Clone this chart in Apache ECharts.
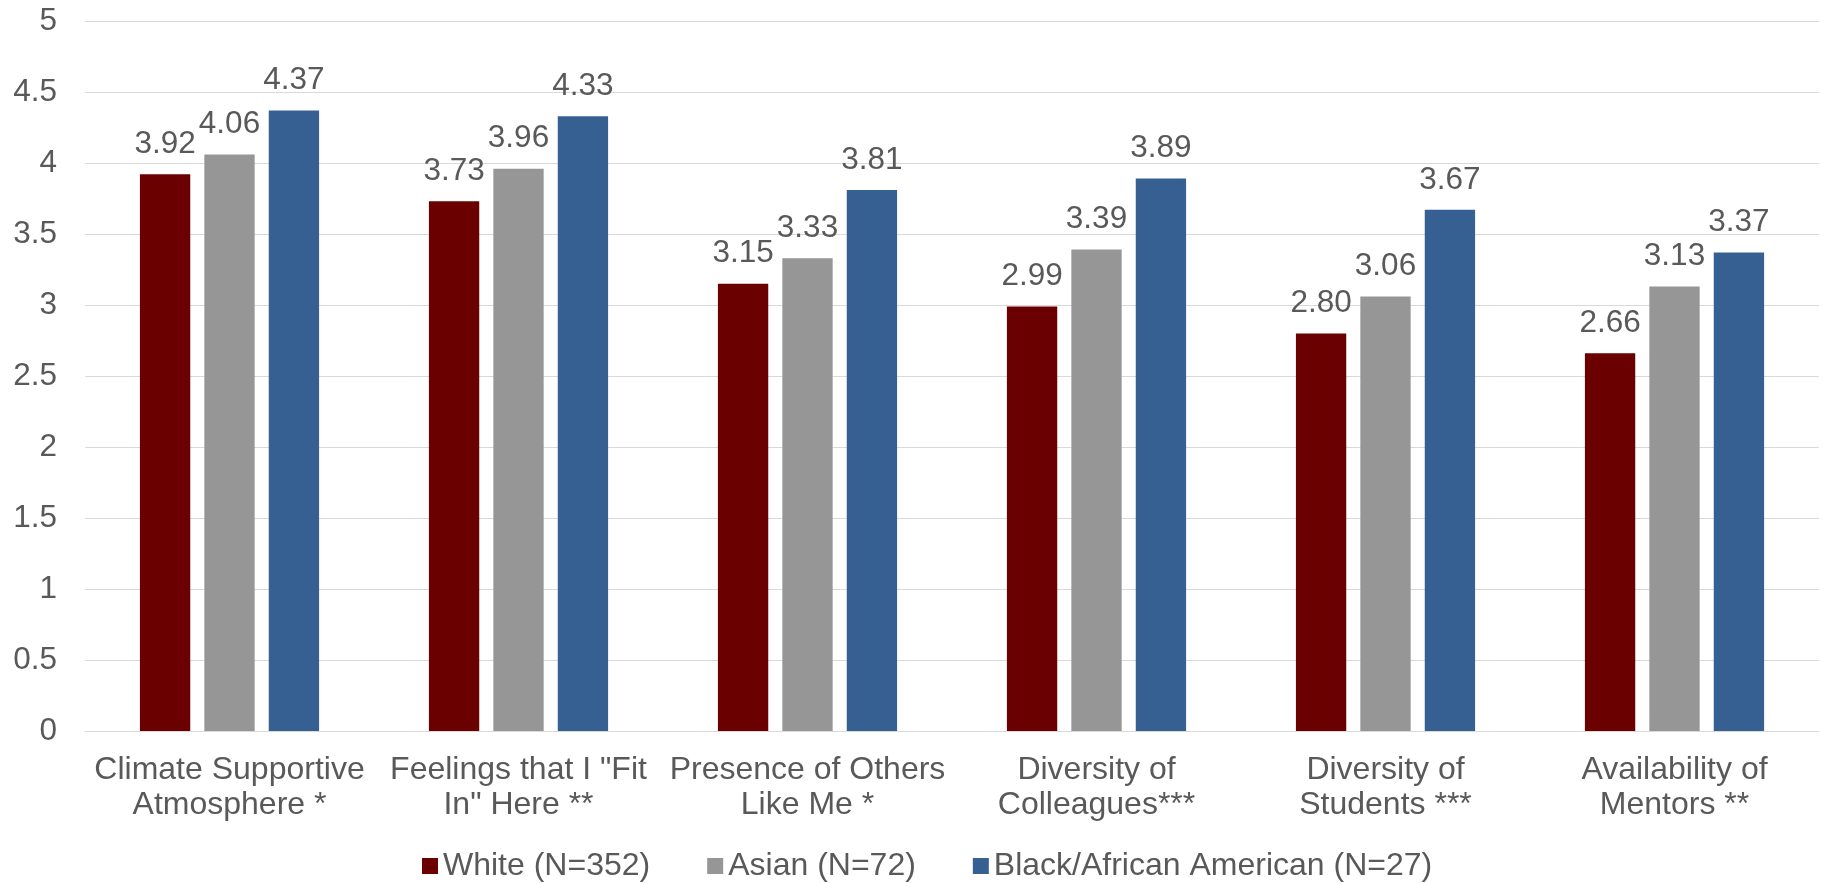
<!DOCTYPE html>
<html><head><meta charset="utf-8">
<script src="https://cdn.jsdelivr.net/npm/echarts@6/dist/echarts.min.js"></script>
<style>html,body{margin:0;padding:0;background:#fff}#c{width:1823px;height:883px}</style>
</head><body><div id="c"></div>
<script>
const categories = ['Climate Supportive\nAtmosphere *', 'Feelings that I "Fit\nIn" Here **', 'Presence of Others\nLike Me *', 'Diversity of\nColleagues***', 'Diversity of\nStudents ***', 'Availability of\nMentors **'];
const seriesNames = ['White (N=352)', 'Asian (N=72)', 'Black/African American (N=27)'];
const white = [3.92, 3.73, 3.15, 2.99, 2.80, 2.66];
const asian = [4.06, 3.96, 3.33, 3.39, 3.06, 3.13];
const black = [4.37, 4.33, 3.81, 3.89, 3.67, 3.37];
const colors = ['#6B0000', '#969696', '#366092'];
const FONT = '"Liberation Sans", Arial, sans-serif';
const TXT = '#595959';
const chart = echarts.init(document.getElementById('c'));
const mk = (name, data, color) => ({
  name, type: 'bar', data, barGap: '28%', barCategoryGap: '38%',
  itemStyle: { color },
  label: { show: true, position: 'top', distance: 14, color: TXT, fontSize: 31.5, fontFamily: FONT,
    formatter: p => p.value.toFixed(2) }
});
chart.setOption({
  animation: false,
  textStyle: { fontFamily: FONT },
  grid: { left: 85, right: 4, top: 21, bottom: 152 },
  legend: {
    top: 845, left: 417, padding: 5, itemWidth: 16, itemHeight: 16, itemGap: 57,
    icon: 'rect',
    textStyle: { color: TXT, fontSize: 32, fontFamily: FONT },
    data: seriesNames
  },
  xAxis: {
    type: 'category', data: categories,
    axisLine: { lineStyle: { color: '#d9d9d9', width: 1 } },
    axisTick: { show: false },
    axisLabel: { interval: 0, color: TXT, fontSize: 32, lineHeight: 35, margin: 22, fontFamily: FONT }
  },
  yAxis: {
    type: 'value', min: 0, max: 5, interval: 0.5,
    axisLine: { show: false }, axisTick: { show: false },
    splitLine: { lineStyle: { color: '#d9d9d9', width: 1 } },
    axisLabel: { color: TXT, fontSize: 31.5, margin: 28, fontFamily: FONT }
  },
  series: [mk(seriesNames[0], white, colors[0]), mk(seriesNames[1], asian, colors[1]), mk(seriesNames[2], black, colors[2])]
});
</script></body></html>
